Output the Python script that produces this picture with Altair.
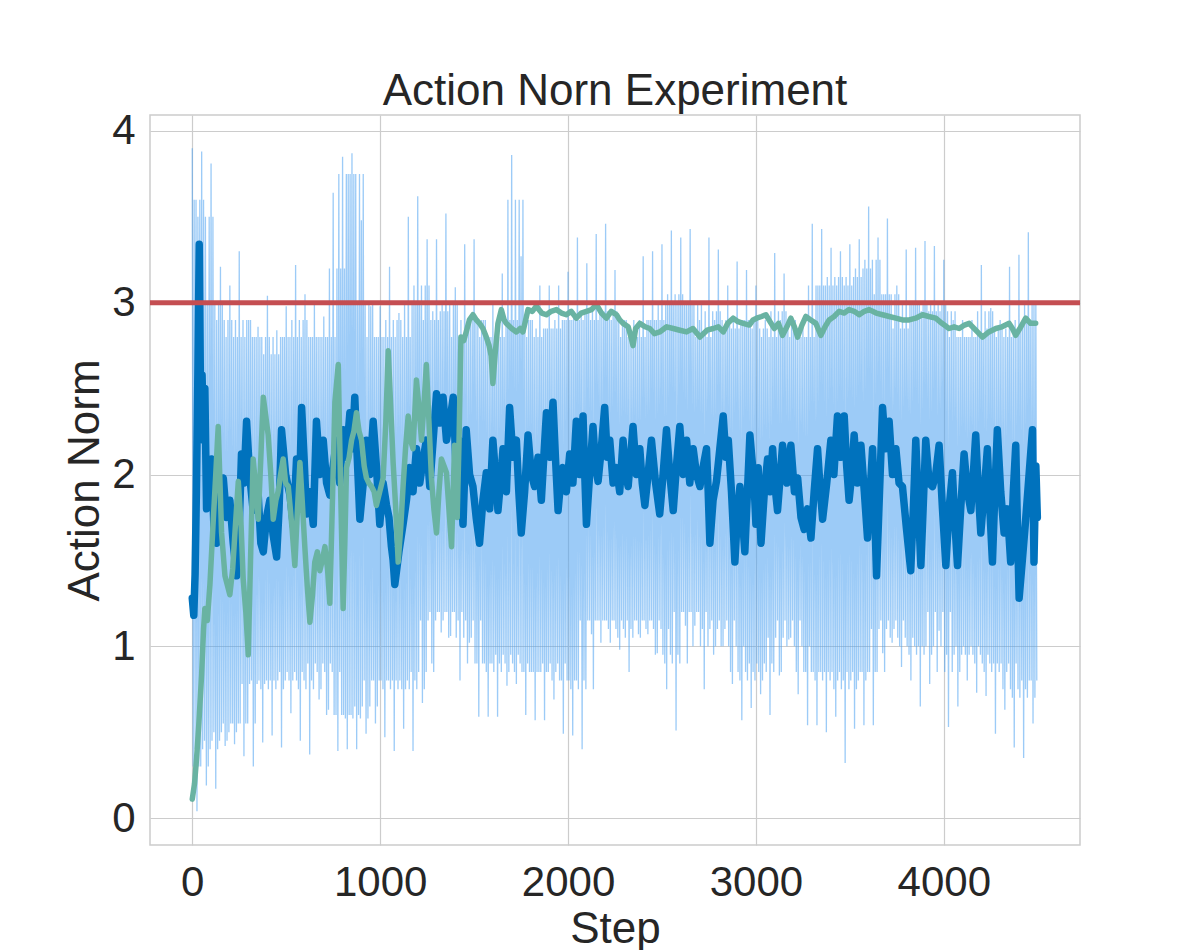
import altair as alt
import pandas as pd

# ---------------- data ----------------
# raw action norm (light blue): per 50-step bin, the highest and lowest spikes
spike_hi = [3.90, 3.88, 3.81, 3.21, 3.10, 3.30, 2.90, 2.86, 3.04, 2.84, 2.98, 3.22, 3.05, 2.99, 2.92,
            3.64, 3.85, 3.87, 3.48, 2.98, 2.98, 3.21, 2.94, 3.50, 3.62, 3.37, 3.37, 3.52, 3.09, 3.34,
            3.37, 2.90, 3.00, 3.17, 3.86, 3.27, 2.90, 3.10, 3.10, 3.10, 3.18, 3.38, 3.23, 3.40, 3.46,
            3.19, 2.90, 2.90, 3.27, 3.30, 3.34, 3.42, 3.38, 3.43, 2.90, 3.38, 3.31, 3.10, 3.24, 3.19,
            3.10, 2.90, 3.29, 3.17, 2.90, 2.90, 3.46, 3.43, 3.32, 3.30, 3.34, 3.37, 3.56, 3.38, 3.49,
            3.10, 3.31, 3.32, 3.36, 3.33, 3.25, 2.90, 2.90, 2.90, 3.22, 2.97, 2.90, 3.21, 3.28, 3.41]
spike_lo = [0.04, 0.19, 0.17, 0.42, 0.43, 0.36, 0.30, 0.44, 0.48, 0.41, 0.61, 0.45, 0.37, 0.69, 0.63,
            0.39, 0.40, 0.40, 0.49, 0.55, 0.47, 0.39, 0.52, 0.39, 0.67, 0.90, 1.08, 1.06, 0.80, 1.02,
            0.59, 0.59, 0.59, 0.77, 0.78, 0.60, 0.57, 0.57, 0.69, 0.49, 0.48, 0.40, 1.07, 1.02, 1.02,
            0.98, 0.85, 1.07, 1.07, 0.96, 0.75, 0.51, 1.12, 1.12, 0.75, 0.95, 1.00, 0.78, 0.57, 0.64,
            0.72, 0.60, 0.83, 1.04, 0.72, 0.54, 0.54, 0.50, 0.59, 0.32, 0.52, 0.54, 0.54, 0.96, 1.02,
            0.88, 0.80, 0.65, 0.78, 1.09, 0.53, 0.65, 0.80, 0.73, 0.71, 0.49, 0.63, 0.41, 0.35, 0.55]
# upper and lower edge of the dense core of the raw series, per 50-step bin
core_hi = [3.60, 3.50, 3.00, 2.90, 2.80, 2.90, 2.80, 2.80, 2.70, 2.80, 2.80, 2.90, 2.80, 2.80, 2.80,
           3.20, 3.75, 3.75, 3.00, 2.80, 2.80, 2.90, 2.80, 3.00, 3.10, 2.90, 2.95, 3.00, 2.80, 2.90,
           2.90, 2.80, 2.80, 2.90, 3.60, 2.90, 2.80, 2.85, 2.85, 2.90, 2.90, 2.95, 2.90, 2.95, 2.95,
           2.90, 2.80, 2.80, 2.90, 2.90, 3.00, 3.05, 3.00, 3.00, 2.80, 2.95, 2.90, 2.85, 2.90, 2.90,
           2.85, 2.80, 2.95, 2.90, 2.80, 2.80, 3.10, 3.10, 3.15, 3.10, 3.15, 3.20, 3.25, 3.05, 3.05,
           2.85, 3.00, 3.00, 2.95, 3.00, 2.95, 2.80, 2.80, 2.80, 2.95, 2.85, 2.80, 2.85, 2.90, 3.00]
core_lo = [0.30, 0.40, 0.45, 0.50, 0.55, 0.55, 0.78, 0.80, 0.75, 0.80, 0.85, 0.80, 0.75, 0.90, 0.85,
           0.60, 0.60, 0.58, 0.65, 0.80, 0.80, 0.75, 0.80, 0.75, 0.85, 1.15, 1.20, 1.20, 1.05, 1.15,
           0.90, 0.90, 0.85, 0.95, 0.90, 0.85, 0.85, 0.85, 0.90, 0.80, 0.80, 0.75, 1.15, 1.15, 1.15,
           1.10, 1.05, 1.15, 1.15, 1.10, 0.95, 0.90, 1.20, 1.20, 1.00, 1.10, 1.15, 1.00, 0.85, 0.80,
           0.90, 0.85, 1.05, 1.15, 1.00, 0.85, 0.85, 0.80, 0.85, 0.75, 0.80, 0.85, 0.85, 1.10, 1.15,
           1.05, 1.00, 0.95, 1.00, 1.20, 0.85, 0.95, 1.00, 0.95, 0.90, 0.85, 0.90, 0.75, 0.70, 0.80]

# smoothed action norm (dark blue)
blue_step = [0, 8, 15, 22, 30, 37, 45, 52, 60, 67, 76, 88, 103, 115, 130, 148, 165, 182, 200, 218, 236, 250,
             262, 275, 289, 305, 324, 350, 365, 378, 395, 413, 430, 449, 462, 475, 497, 520, 538, 555, 570,
             582, 595, 608, 625, 644, 661, 680, 697, 715, 732, 750, 768, 785, 803, 820, 839, 852, 865, 878,
             892, 910, 927, 945, 963, 980, 998, 1016, 1034, 1047, 1060, 1069, 1078, 1100, 1122, 1140, 1158,
             1175, 1193, 1211, 1229, 1246, 1264, 1282, 1300, 1318, 1335, 1353, 1371, 1389, 1406, 1420, 1441,
             1458, 1476, 1494, 1511, 1529, 1547, 1565, 1583, 1600, 1614, 1627, 1640, 1654, 1672, 1689, 1707,
             1725, 1738, 1751, 1769, 1787, 1805, 1822, 1840, 1858, 1871, 1885, 1903, 1920, 1933, 1947, 1960,
             1973, 1991, 2009, 2026, 2044, 2062, 2080, 2089, 2098, 2115, 2133, 2146, 2160, 2177, 2195, 2209,
             2222, 2240, 2258, 2275, 2293, 2306, 2320, 2333, 2346, 2364, 2382, 2395, 2409, 2426, 2444, 2466,
             2488, 2506, 2524, 2542, 2560, 2577, 2595, 2613, 2631, 2648, 2666, 2684, 2702, 2720, 2737, 2746,
             2755, 2772, 2790, 2808, 2826, 2840, 2853, 2870, 2888, 2901, 2915, 2928, 2941, 2955, 2968, 2990,
             3000, 3012, 3027, 3045, 3062, 3075, 3089, 3100, 3115, 3130, 3142, 3165, 3186, 3205, 3222, 3240,
             3257, 3275, 3293, 3310, 3328, 3340, 3355, 3377, 3399, 3415, 3434, 3452, 3470, 3483, 3496, 3510,
             3523, 3540, 3559, 3577, 3594, 3608, 3621, 3632, 3642, 3658, 3674, 3690, 3709, 3727, 3745, 3762,
             3780, 3800, 3824, 3838, 3851, 3865, 3878, 3890, 3904, 3922, 3940, 3957, 3975, 3993, 4011, 4028,
             4046, 4060, 4073, 4090, 4108, 4126, 4144, 4157, 4170, 4184, 4197, 4215, 4232, 4245, 4259, 4272,
             4285, 4303, 4321, 4338, 4356, 4370, 4383, 4392, 4401, 4418, 4436, 4454, 4472, 4480, 4490, 4498]
blue_val = [1.28, 1.18, 1.42, 1.90, 2.60, 3.34, 2.30, 2.58, 2.20, 2.50, 1.80, 2.00, 2.09, 1.70, 1.60, 1.90,
            1.98, 1.75, 1.85, 1.60, 1.41, 1.70, 2.12, 1.95, 2.31, 2.00, 1.79, 1.90, 1.60, 1.55, 1.75, 1.85,
            1.65, 1.52, 1.80, 2.26, 2.00, 1.88, 1.70, 2.09, 1.85, 2.39, 2.10, 1.77, 1.90, 1.71, 2.31, 2.00,
            2.20, 1.95, 1.88, 2.05, 2.20, 1.95, 2.26, 2.10, 2.36, 2.15, 2.45, 2.10, 1.74, 1.95, 2.20, 2.00,
            2.31, 2.05, 1.71, 1.95, 1.82, 1.75, 1.58, 1.50, 1.36, 1.55, 1.71, 1.85, 2.04, 1.90, 2.15, 1.95,
            2.09, 2.20, 1.93, 2.20, 2.47, 2.30, 2.45, 2.20, 2.31, 2.45, 1.98, 2.20, 1.71, 2.26, 2.00, 1.93,
            1.75, 1.60, 1.85, 2.01, 1.80, 2.20, 2.00, 1.79, 1.95, 2.15, 1.90, 2.39, 2.10, 2.20, 1.90, 1.66,
            1.90, 2.23, 2.00, 1.93, 2.10, 1.85, 2.10, 2.36, 2.10, 2.42, 2.10, 1.79, 1.95, 2.04, 1.90, 2.12,
            1.95, 2.31, 2.00, 2.34, 2.00, 1.71, 2.00, 2.28, 2.05, 1.96, 2.15, 2.39, 2.10, 2.20, 1.95, 2.04,
            1.90, 2.20, 2.00, 1.93, 2.10, 2.28, 2.00, 2.15, 1.95, 1.82, 2.00, 2.20, 1.95, 1.77, 2.00, 2.26,
            2.00, 1.79, 2.05, 2.28, 2.00, 2.20, 1.95, 2.15, 2.00, 1.93, 2.05, 2.15, 1.90, 1.60, 1.85, 1.96,
            2.15, 2.34, 2.10, 2.20, 1.90, 1.49, 1.75, 1.93, 1.75, 1.55, 1.90, 2.23, 1.95, 1.71, 2.04, 1.60,
            1.90, 2.09, 1.90, 2.15, 1.95, 1.79, 2.00, 2.17, 1.95, 2.17, 1.90, 1.98, 1.75, 1.68, 1.80, 1.63,
            1.90, 2.15, 1.95, 1.74, 1.95, 2.20, 2.00, 2.34, 2.10, 2.34, 2.05, 1.85, 2.00, 2.23, 1.95, 2.17,
            1.90, 1.63, 1.90, 2.15, 1.80, 1.41, 1.90, 2.39, 2.15, 2.31, 2.00, 2.15, 1.95, 1.93, 1.70, 1.44,
            1.80, 2.20, 1.80, 1.47, 1.80, 2.20, 1.95, 1.93, 2.00, 2.17, 1.80, 1.47, 1.80, 2.01, 1.70, 1.47,
            1.80, 2.12, 1.90, 1.79, 2.00, 2.23, 1.90, 1.66, 1.90, 2.15, 1.80, 1.49, 1.90, 2.26, 1.90, 1.66,
            1.80, 1.49, 1.90, 2.17, 1.70, 1.28, 1.50, 1.74, 2.00, 2.26, 1.49, 2.05, 1.75]

# second experiment (green)
green_step = [0, 12, 23, 35, 50, 60, 67, 80, 94, 112, 125, 138, 156, 174, 200, 215, 227, 245, 260, 271, 285,
              298, 310, 324, 340, 351, 365, 378, 390, 404, 418, 431, 445, 457, 470, 484, 497, 511, 530, 546,
              560, 573, 585, 599, 612, 626, 640, 652, 666, 679, 692, 706, 720, 732, 745, 759, 777, 790, 803,
              812, 821, 835, 848, 860, 874, 888, 901, 915, 927, 940, 954, 968, 980, 998, 1016, 1030, 1043,
              1056, 1069, 1083, 1096, 1110, 1122, 1135, 1149, 1162, 1175, 1184, 1193, 1206, 1220, 1233, 1246,
              1260, 1273, 1286, 1300, 1313, 1326, 1340, 1353, 1366, 1380, 1396, 1410, 1420, 1430, 1445, 1458,
              1475, 1494, 1512, 1529, 1547, 1565, 1580, 1591, 1600, 1612, 1627, 1645, 1660, 1671, 1700, 1725,
              1745, 1760, 1787, 1810, 1831, 1860, 1885, 1910, 1938, 1965, 1991, 2017, 2044, 2070, 2098, 2125,
              2151, 2178, 2204, 2230, 2258, 2275, 2293, 2320, 2335, 2346, 2360, 2382, 2410, 2435, 2460, 2488,
              2525, 2560, 2595, 2631, 2665, 2702, 2740, 2773, 2800, 2826, 2850, 2879, 2905, 2932, 2965, 2985,
              3004, 3030, 3053, 3075, 3098, 3120, 3142, 3165, 3186, 3205, 3222, 3245, 3266, 3292, 3319, 3346,
              3368, 3390, 3416, 3443, 3470, 3496, 3523, 3550, 3577, 3603, 3640, 3674, 3710, 3745, 3780, 3816,
              3850, 3887, 3920, 3957, 3990, 4028, 4055, 4082, 4110, 4135, 4170, 4206, 4240, 4277, 4310, 4348,
              4365, 4383, 4410, 4436, 4462, 4489]
green_val = [0.11, 0.20, 0.35, 0.55, 0.84, 1.10, 1.22, 1.15, 1.36, 1.74, 2.00, 2.28, 1.66, 1.41, 1.30, 1.45,
             1.66, 1.96, 1.70, 1.39, 1.20, 0.95, 1.50, 2.09, 1.90, 1.74, 2.10, 2.45, 2.35, 2.23, 2.00, 1.74,
             1.85, 1.90, 2.00, 2.09, 1.95, 1.93, 1.70, 1.47, 1.80, 2.07, 1.85, 1.58, 1.35, 1.14, 1.30, 1.49,
             1.55, 1.44, 1.50, 1.58, 1.45, 1.25, 1.80, 2.42, 2.64, 1.90, 1.22, 1.60, 2.04, 2.10, 2.20, 2.25,
             2.36, 2.25, 2.20, 2.05, 1.98, 1.95, 1.93, 1.90, 1.82, 1.90, 1.98, 2.30, 2.72, 2.40, 2.07, 1.80,
             1.49, 1.70, 1.93, 2.15, 2.34, 2.20, 2.15, 2.35, 2.55, 2.40, 2.20, 2.40, 2.64, 2.30, 1.98, 1.80,
             1.66, 1.90, 2.09, 2.05, 2.01, 1.80, 1.58, 2.17, 1.75, 2.20, 2.80, 2.78, 2.83, 2.90, 2.93, 2.90,
             2.88, 2.85, 2.80, 2.75, 2.69, 2.53, 2.70, 2.88, 2.96, 2.90, 2.88, 2.85, 2.83, 2.85, 2.83, 2.96,
             2.95, 2.98, 2.94, 2.93, 2.95, 2.96, 2.94, 2.93, 2.95, 2.91, 2.94, 2.95, 2.96, 2.99, 2.94, 2.91,
             2.95, 2.93, 2.90, 2.88, 2.86, 2.80, 2.75, 2.85, 2.88, 2.86, 2.85, 2.82, 2.83, 2.86, 2.85, 2.84,
             2.83, 2.85, 2.80, 2.84, 2.85, 2.86, 2.83, 2.88, 2.91, 2.89, 2.88, 2.87, 2.90, 2.91, 2.92, 2.93,
             2.89, 2.85, 2.88, 2.81, 2.86, 2.91, 2.86, 2.80, 2.87, 2.92, 2.90, 2.88, 2.81, 2.86, 2.90, 2.92,
             2.95, 2.94, 2.96, 2.95, 2.93, 2.95, 2.96, 2.94, 2.93, 2.92, 2.91, 2.90, 2.90, 2.91, 2.93, 2.92,
             2.91, 2.88, 2.85, 2.86, 2.85, 2.87, 2.88, 2.84, 2.80, 2.83, 2.85, 2.86, 2.88, 2.85, 2.81, 2.86,
             2.91, 2.88, 2.88]

threshold = [3.0]
x_ticks = [0, 1000, 2000, 3000, 4000]
y_ticks = [0, 1, 2, 3, 4]

# ---------------- build tables ----------------
# raw series: a dense zig-zag through each 50-step bin's read levels (and its neighbours' core levels)
n = len(spike_hi)
raw_rows = []
for i in range(n):
    a, b = max(i - 1, 0), min(i + 1, n - 1)
    seq = [spike_hi[i], core_lo[i], core_hi[a], core_lo[b], core_hi[i],
           spike_lo[i], core_hi[b], core_lo[a], core_hi[i], core_lo[i]]
    for k, v in enumerate(seq):
        raw_rows.append({"step": i * 50 + k * 5, "value": v})
raw_df = pd.DataFrame(raw_rows)
blue_df = pd.DataFrame({"step": blue_step, "value": blue_val})
green_df = pd.DataFrame({"step": green_step, "value": green_val})
thr_df = pd.DataFrame({"value": threshold})

FONT = "Liberation Sans"
xscale = alt.Scale(domain=[-225, 4725], nice=False, zero=False)
yscale = alt.Scale(domain=[-0.157, 4.093], nice=False, zero=False)
xenc = alt.X("step:Q", scale=xscale, title="Step",
             axis=alt.Axis(values=x_ticks, format="d"))
yenc = alt.Y("value:Q", scale=yscale, title="Action Norm",
             axis=alt.Axis(values=y_ticks, format="d"))

raw = alt.Chart(raw_df).mark_line(color="#4aa0f0", opacity=0.55, strokeWidth=1.3, clip=True).encode(
    x=xenc, y=yenc, order="step:Q")
blue = alt.Chart(blue_df).mark_line(color="#0072BD", strokeWidth=7.5, strokeJoin="round",
                                    strokeCap="round", clip=True).encode(x=xenc, y=yenc, order="step:Q")
green = alt.Chart(green_df).mark_line(color="#69b3a2", strokeWidth=5.5, strokeJoin="round",
                                      strokeCap="round", clip=True).encode(x=xenc, y=yenc, order="step:Q")
red = alt.Chart(thr_df).mark_rule(color="#c44e52", strokeWidth=5).encode(y=alt.Y("value:Q", scale=yscale))

chart = alt.layer(raw, blue, green, red).properties(
    width=930, height=730,
    title=alt.Title("Action Norn Experiment", fontSize=44, font=FONT, fontWeight="normal",
                    color="#262626", offset=8, baseline="alphabetic", dy=47),
    autosize=alt.AutoSizeParams(type="none"),
    padding={"left": 142, "top": 107, "right": 112, "bottom": 115},
).configure_view(
    stroke="#cccccc", strokeWidth=1.5
).configure_axis(
    grid=True, gridColor="#cccccc", gridWidth=1.2, domain=False, ticks=False,
    labelFont=FONT, labelFontSize=42, labelColor="#262626",
    titleFont=FONT, titleFontSize=44, titleColor="#262626", titleFontWeight="normal",
).configure_axisX(
    labelPadding=17, titlePadding=4
).configure_axisY(
    labelPadding=15, titlePadding=4
)

chart.save("out.html", embed_options={"renderer": "svg", "actions": False})
